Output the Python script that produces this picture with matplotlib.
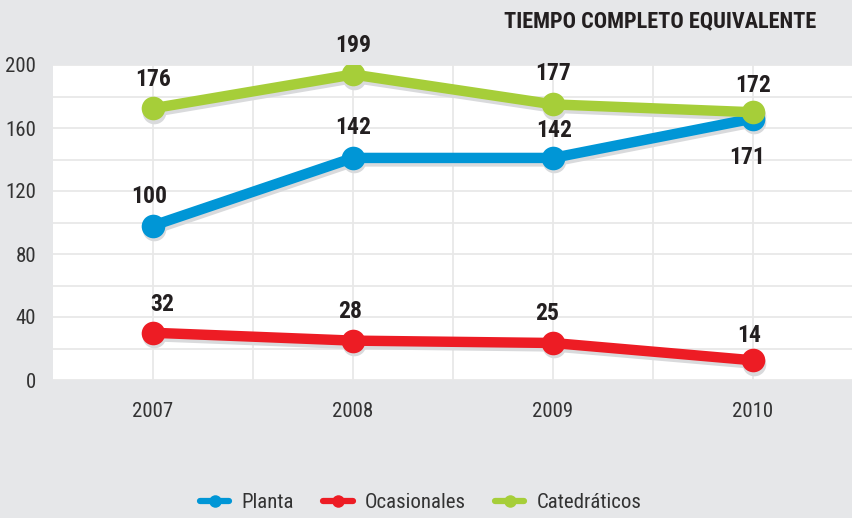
import numpy as np
import matplotlib
matplotlib.use("Agg")
import matplotlib.pyplot as plt
from matplotlib import font_manager
from matplotlib.transforms import ScaledTranslation

# data
years = ["2007", "2008", "2009", "2010"]
planta = [98, 141, 141, 166]
ocasionales = [30, 25, 23.5, 12.5]
catedraticos = [172.5, 194, 175, 170]
# numbers printed next to the points
planta_lbl = ["100", "142", "142", "171"]
ocasionales_lbl = ["32", "28", "25", "14"]
catedraticos_lbl = ["176", "199", "177", "172"]

bg = "#e6e7e9"
c_blue = "#0096d6"
c_red = "#ed1c24"
c_green = "#a6ce39"

names = sorted({f.name for f in font_manager.fontManager.ttflist})
narrow_name = None
for cand in ["Liberation Sans Narrow", "DejaVu Sans Condensed", "Roboto Condensed", "Open Sans Condensed"]:
    if cand in names:
        narrow_name = cand
        break
fkw = {"family": [narrow_name or "DejaVu Sans", "DejaVu Sans"]}
if narrow_name is None:
    fkw["stretch"] = "condensed"

fig = plt.figure(figsize=(8.52, 5.18), dpi=100, facecolor=bg)
ax = fig.add_axes([53 / 852, 138 / 518, 800 / 852, 315 / 518])
ax.set_facecolor("white")

x = np.arange(len(years))
shift = ax.transData + ScaledTranslation(1 / 72, -2.5 / 72, fig.dpi_scale_trans)

for vals, col, name in [(planta, c_blue, "Planta"),
                        (ocasionales, c_red, "Ocasionales"),
                        (catedraticos, c_green, "Catedráticos")]:
    ax.plot(x, vals, color="#d9dadc", lw=7.5, marker="o", ms=17, mew=0,
            solid_capstyle="round", transform=shift, zorder=2)
    ax.plot(x, vals, color=col, lw=7.5, marker="o", ms=17, mew=0,
            solid_capstyle="round", label=name, zorder=3)

lbl_kw = dict(fontsize=17, fontweight="bold", color="#231f20",
              ha="center", va="center", zorder=5, **fkw)
# label offsets in points
cat_off = [(0, 21), (0, 21), (0, 22), (0, 19)]
pla_off = [(-3, 21), (0, 22), (1, 20), (-4, -28)]
oca_off = [(7, 20), (-2, 21), (-4, 21), (-3, 18)]
for i in range(len(years)):
    ax.annotate(catedraticos_lbl[i], (x[i], catedraticos[i]), xytext=cat_off[i],
                textcoords="offset points", **lbl_kw)
    ax.annotate(ocasionales_lbl[i], (x[i], ocasionales[i]), xytext=oca_off[i],
                textcoords="offset points", **lbl_kw)
    ax.annotate(planta_lbl[i], (x[i], planta[i]), xytext=pla_off[i],
                textcoords="offset points", **lbl_kw)

ax.set_xlim(-0.5, 3.5)
ax.set_ylim(0, 200)
ax.set_yticks(np.arange(0, 201, 40))
ax.set_yticks(np.arange(20, 200, 40), minor=True)
ax.set_xticks(x)
ax.set_xticklabels(years)
ax.set_xticks([0.5, 1.5, 2.5], minor=True)
ax.tick_params(which="both", length=0)
ax.tick_params(axis="y", pad=12, labelsize=15, labelcolor="#333333")
ax.tick_params(axis="x", pad=16, labelsize=15, labelcolor="#333333")
for lab in ax.get_xticklabels() + ax.get_yticklabels():
    lab.set_family(fkw["family"])
    if "stretch" in fkw:
        lab.set_stretch(fkw["stretch"])
ax.grid(which="both", color="#e8e8e8", lw=1.3)
ax.set_axisbelow(True)
for s in ax.spines.values():
    s.set_visible(False)

fig.text(816 / 852, 1 - 21 / 518, "TIEMPO COMPLETO EQUIVALENTE", ha="right", va="center",
         fontsize=16, fontweight="bold", color="#231f20", **fkw)

prop = dict(size=15, **fkw)
fig.legend(loc="center", bbox_to_anchor=(421 / 852, 1 - 503 / 518), ncol=3, frameon=False,
           handlelength=1.4, columnspacing=1.4, handletextpad=0.6, prop=prop)
leg = fig.legends[0]
for h in leg.legend_handles:
    h.set_linewidth(4.5)
    h.set_markersize(9)
for t in leg.get_texts():
    t.set_color("#333333")

fig.savefig("out.png", dpi=100, facecolor=bg)
